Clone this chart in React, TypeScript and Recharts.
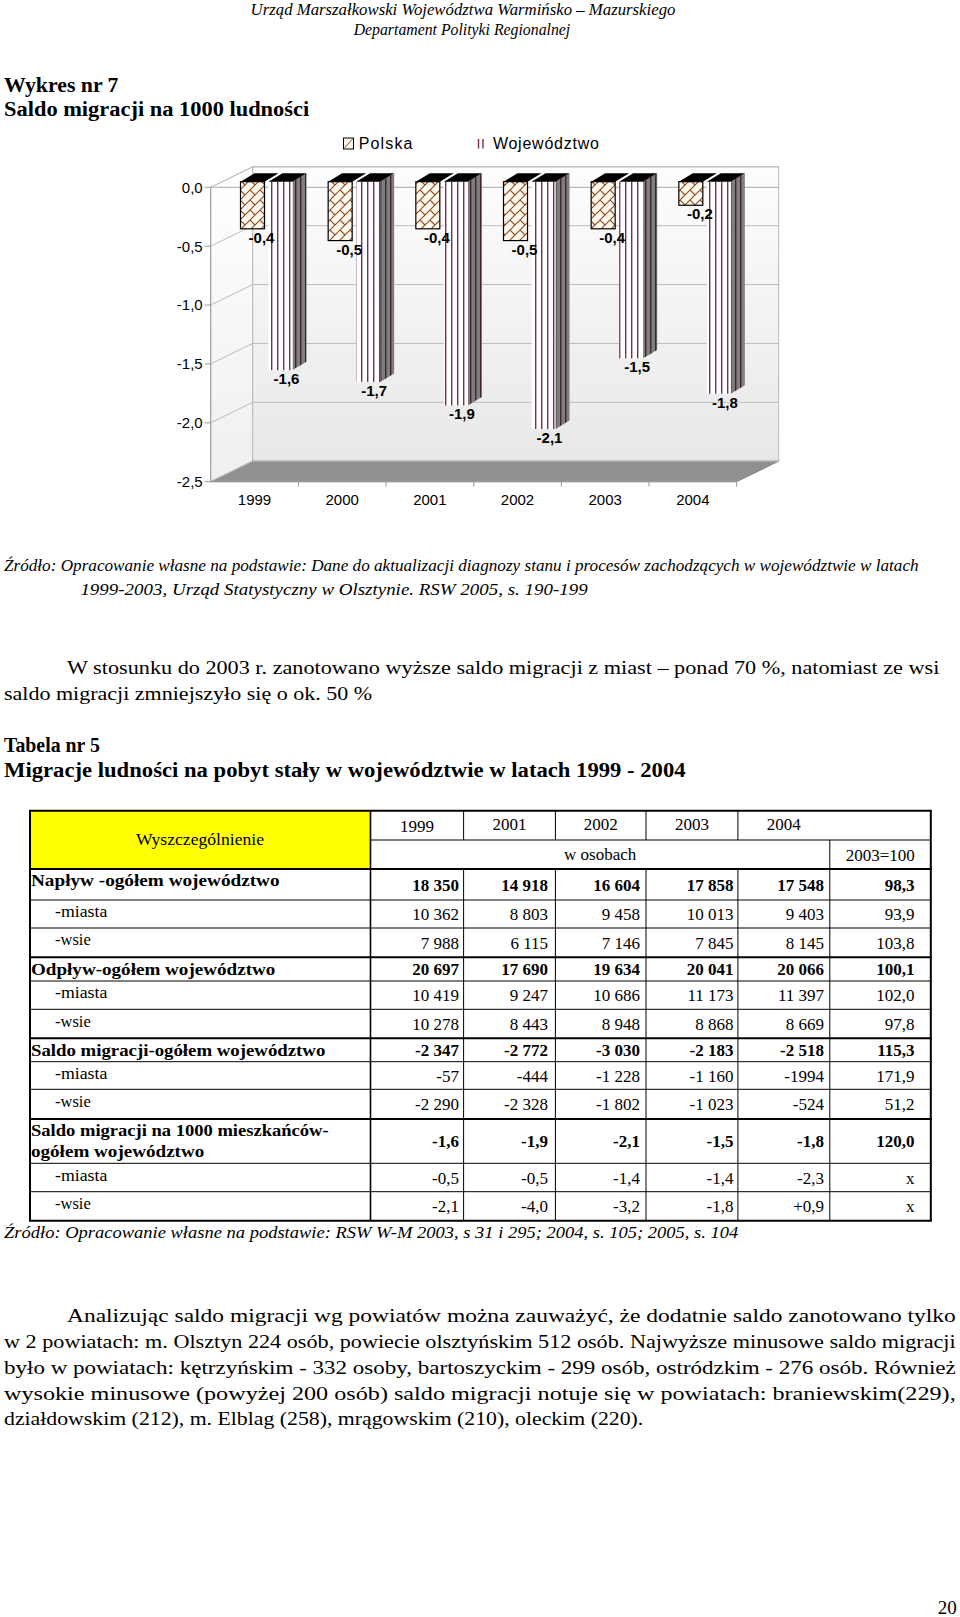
import React from "react";
import {
  BarChart,
  Bar,
  XAxis,
  YAxis,
  CartesianGrid,
  ReferenceArea,
  LabelList,
  Customized,
} from "recharts";

// ---- Wykres nr 7: saldo migracji na 1000 ludności ----
const years = ["1999", "2000", "2001", "2002", "2003", "2004"];
const polska = [-0.4, -0.5, -0.4, -0.5, -0.4, -0.2];
const wojewodztwo = [-1.6, -1.7, -1.9, -2.1, -1.5, -1.8];
const yTicks = [0, -0.5, -1, -1.5, -2, -2.5];

// ---- Tabela nr 5 ----
const tableYears = ["1999", "2001", "2002", "2003", "2004"];
const naplyw = ["18 350", "14 918", "16 604", "17 858", "17 548", "98,3"];
const naplywMiasta = ["10 362", "8 803", "9 458", "10 013", "9 403", "93,9"];
const naplywWsie = ["7 988", "6 115", "7 146", "7 845", "8 145", "103,8"];
const odplyw = ["20 697", "17 690", "19 634", "20 041", "20 066", "100,1"];
const odplywMiasta = ["10 419", "9 247", "10 686", "11 173", "11 397", "102,0"];
const odplywWsie = ["10 278", "8 443", "8 948", "8 868", "8 669", "97,8"];
const saldo = ["-2 347", "-2 772", "-3 030", "-2 183", "-2 518", "115,3"];
const saldoMiasta = ["-57", "-444", "-1 228", "-1 160", "-1994", "171,9"];
const saldoWsie = ["-2 290", "-2 328", "-1 802", "-1 023", "-524", "51,2"];
const saldo1000 = ["-1,6", "-1,9", "-2,1", "-1,5", "-1,8", "120,0"];
const saldo1000Miasta = ["-0,5", "-0,5", "-1,4", "-1,4", "-2,3", "x"];
const saldo1000Wsie = ["-2,1", "-4,0", "-3,2", "-1,8", "+0,9", "x"];

const chartData = years.map((year, i) => ({
  year,
  polska: polska[i],
  wojewodztwo: wojewodztwo[i],
}))

const tableRows = [
  { label: ["Napływ -ogółem województwo"], bold: true, values: naplyw },
  { label: ["-miasta"], bold: false, values: naplywMiasta },
  { label: ["-wsie"], bold: false, values: naplywWsie },
  { label: ["Odpływ-ogółem województwo"], bold: true, values: odplyw },
  { label: ["-miasta"], bold: false, values: odplywMiasta },
  { label: ["-wsie"], bold: false, values: odplywWsie },
  { label: ["Saldo migracji-ogółem województwo"], bold: true, values: saldo },
  { label: ["-miasta"], bold: false, values: saldoMiasta },
  { label: ["-wsie"], bold: false, values: saldoWsie },
  { label: ["Saldo migracji na 1000 mieszkańców-", "ogółem województwo"], bold: true, values: saldo1000 },
  { label: ["-miasta"], bold: false, values: saldo1000Miasta },
  { label: ["-wsie"], bold: false, values: saldo1000Wsie },
]

const SERIF = "'Liberation Serif', 'Times New Roman', serif"
const SANS = "'Liberation Sans', Arial, sans-serif"

// 3D look: back wall offset, bar plane offset, bar depth
const DX = 42
const DY = -20.5
const BX = 11.8
const BY = -5.6
const TX = 14
const TY = -8.4

const fmt = (v: number) => Number(v).toFixed(1).replace(".", ",")

const Walls = (props: any) => {
  const { x, y, width, height } = props
  const b = y + height
  return (
    <g>
      <polygon
        points={`${x},${y} ${x + DX},${y + DY} ${x + DX},${b + DY} ${x},${b}`}
        fill="url(#sideWall)"
        stroke="#c4c4c4"
      />
      <rect x={x + DX} y={y + DY} width={width} height={height} fill="url(#backWall)" stroke="#b8b8b8" />
      <polygon
        points={`${x},${b} ${x + width},${b} ${x + width + DX},${b + DY} ${x + DX},${b + DY}`}
        fill="#909090"
        stroke="#888"
      />
      <line x1={x} y1={y} x2={x + width + DX} y2={y} stroke="#a8a8a8" />
    </g>
  )
}

const gridLine = (p: any) => {
  const { x1, y1, x2 } = p
  return (
    <g key={`gl-${y1}`}>
      <line x1={x1} y1={y1} x2={x1 + DX} y2={y1 + DY} stroke="#bdbdbd" />
      <line x1={x1 + DX} y1={y1 + DY} x2={x2 + DX} y2={y1 + DY} stroke="#bdbdbd" />
    </g>
  )
}

const PolskaBar = (p: any) => {
  const { x, y, width, height } = p
  const top = Math.min(y, y + height) + BY
  const bottom = Math.max(y, y + height) + BY
  const l = x + BX
  const r = x + width + BX
  return (
    <g>
      <rect x={l} y={top} width={r - l} height={bottom - top} fill="url(#polPat)" stroke="#000" strokeWidth={1.2} />
      <polygon points={`${l},${top} ${r},${top} ${r + TX},${top + TY} ${l + TX},${top + TY}`} fill="#000" />
    </g>
  )
}

const WojBar = (p: any) => {
  const { x, y, width, height } = p
  const top = Math.min(y, y + height) + BY
  const bottom = Math.max(y, y + height) + BY
  const l = x + BX
  const r = x + width + BX
  return (
    <g>
      <polygon
        points={`${r},${top} ${r + TX},${top + TY} ${r + TX},${bottom + TY} ${r},${bottom}`}
        fill="url(#wojSide)"
      />
      <rect x={l} y={top} width={r - l} height={bottom - top} fill="url(#wojPat)" />
      <polygon points={`${l},${top} ${r},${top} ${r + TX},${top + TY} ${l + TX},${top + TY}`} fill="#000" />
    </g>
  )
}

const barLabel = (shift: number) => (p: any) => {
  const vb = p.viewBox || p
  const { x, y, width, height } = vb
  const bottom = Math.max(y, y + height) + BY
  return (
    <text
      x={x + width / 2 + BX + shift}
      y={bottom + 14}
      textAnchor="middle"
      style={{ fontFamily: SANS }}
      fontWeight="bold"
      fontSize={15}
      fill="#000"
    >
      {fmt(p.value)}
    </text>
  )
}

const XTick = (p: any) => {
  const { x, y, payload } = p
  const half = payload && payload.offset ? payload.offset : (p.width || 526) / years.length / 2
  return (
    <g>
      <line x1={x + half} y1={y} x2={x + half} y2={y + 5} stroke="#999" />
      <text x={x} y={y + 23.5} textAnchor="middle" style={{ fontFamily: SANS }} fontSize={15} fill="#000">
        {payload.value}
      </text>
    </g>
  )
}

const ChartDecor = () => (
  <g>
    <defs>
      <linearGradient id="backWall" x1="0" y1="0" x2="0" y2="1">
        <stop offset="0" stopColor="#fdfdfd" />
        <stop offset="1" stopColor="#e8e8e8" />
      </linearGradient>
      <linearGradient id="sideWall" x1="0" y1="0" x2="0" y2="1">
        <stop offset="0" stopColor="#ffffff" />
        <stop offset="1" stopColor="#efefef" />
      </linearGradient>
      <pattern id="polPat" patternUnits="userSpaceOnUse" width="10" height="10">
        <rect width="10" height="10" fill="#fff9f0" />
        <path d="M0,10 L10,0 M-1,1 L1,-1 M9,11 L11,9 M0,0 L5,5" stroke="#8c4a1c" strokeWidth={1.1} />
      </pattern>
      <pattern id="wojPat" patternUnits="userSpaceOnUse" width="6" height="6">
        <rect width="6" height="6" fill="#ffffff" />
        <rect x="1" width="1.4" height="6" fill="#7b2d57" />
      </pattern>
      <pattern id="wojSide" patternUnits="userSpaceOnUse" width="5" height="5">
        <rect width="5" height="5" fill="#7e7e7e" />
        <rect x="0" width="1.4" height="5" fill="#3f2433" />
      </pattern>
    </defs>
    <rect x={193.5} y={18} width={10} height={11} fill="#fff9f0" stroke="#000" />
    <line x1={194.5} y1={28} x2={202.5} y2={19} stroke="#8c4a1c" />
    <text x={208.8} y={29} style={{ fontFamily: SANS }} fontSize={16} textLength={53.6} lengthAdjust="spacing">
      Polska
    </text>
    <line x1={328.5} y1={19} x2={328.5} y2={28.5} stroke="#7b2d57" strokeWidth={1.4} />
    <line x1={333} y1={19} x2={333} y2={28.5} stroke="#7b2d57" strokeWidth={1.4} />
    <text x={342.9} y={29} style={{ fontFamily: SANS }} fontSize={16} textLength={106} lengthAdjust="spacing">
      Województwo
    </text>
  </g>
)

function MigrationChart() {
  return (
    <BarChart
      width={660}
      height={410}
      data={chartData}
      margin={{ top: 67.3, right: 73.3, left: 10.7, bottom: 18.3 }}
      barGap={4}
    >
      <Customized component={<ChartDecor />} />
      <ReferenceArea y1={-2.5} y2={0} shape={Walls} zIndex={-200} />
      <CartesianGrid vertical={false} horizontal={gridLine} />
      <XAxis
        dataKey="year"
        height={30}
        interval={0}
        tickSize={0}
        tickMargin={0}
        tickLine={false}
        axisLine={{ stroke: "#999" }}
        tick={<XTick />}
      />
      <YAxis
        type="number"
        domain={[-2.5, 0]}
        ticks={yTicks}
        width={50}
        tickSize={6}
        tickFormatter={fmt}
        axisLine={{ stroke: "#999" }}
        tickLine={{ stroke: "#999" }}
        tick={{ fontSize: 15, fill: "#000", fontFamily: SANS }}
      />
      <Bar dataKey="polska" barSize={24} shape={PolskaBar} isAnimationActive={false}>
        <LabelList dataKey="polska" content={barLabel(9)} />
      </Bar>
      <Bar dataKey="wojewodztwo" barSize={24} shape={WojBar} isAnimationActive={false}>
        <LabelList dataKey="wojewodztwo" content={barLabel(6)} />
      </Bar>
    </BarChart>
  )
}

const T = ({ x, y, w, size, italic, bold, anchor, children }: any) => (
  <text
    x={x}
    y={y}
    fontSize={size}
    fontStyle={italic ? "italic" : undefined}
    fontWeight={bold ? "bold" : undefined}
    textAnchor={anchor}
    textLength={w}
    lengthAdjust={w ? "spacingAndGlyphs" : undefined}
  >
    {children}
  </text>
)

// table layout
const COLS = [30, 370.5, 463.6, 555.4, 646, 737.9, 829.8, 930.8]
const VAL_RIGHT = [459, 548, 640, 733.5, 824, 914.5]
const T_TOP = 810.7
const T_MID = 840
const ROW_Y = [869, 900, 928, 957.3, 981, 1009.3, 1038.3, 1061.7, 1089.3, 1119, 1163.3, 1191.7, 1220.7]
const LABEL_W = [[248.6], [52.3], [35.7], [244.3], [52.3], [35.7], [294.3], [52.3], [35.7], [297.6, 173.3], [52.3], [35.7]]

function Table() {
  const bottom = ROW_Y[ROW_Y.length - 1]
  return (
    <g>
      <rect x={COLS[0]} y={T_TOP} width={COLS[1] - COLS[0]} height={ROW_Y[0] - T_TOP} fill="#ffff00" />
      {/* header text */}
      <T x={136} y={845} w={128} size={17}>Wyszczególnienie</T>
      {tableYears.map((yr, i) => (
        <T key={yr} x={(COLS[i + 1] + COLS[i + 2]) / 2} y={i === 0 ? 831.6 : 829.6} size={17} anchor="middle">
          {yr}
        </T>
      ))}
      <T x={(COLS[1] + COLS[6]) / 2} y={859.5} size={17} anchor="middle">w osobach</T>
      <T x={(COLS[6] + COLS[7]) / 2} y={860.5} size={17} anchor="middle">2003=100</T>
      {/* rows */}
      {tableRows.map((row, i) => {
        const top = ROW_Y[i]
        const mid = (ROW_Y[i] + ROW_Y[i + 1]) / 2
        return (
          <g key={i}>
            {row.label.map((ln, j) => (
              <T key={j} x={row.bold ? 31 : 55} y={top + 17.3 + j * 21} w={LABEL_W[i][j]} size={17} bold={row.bold}>
                {ln}
              </T>
            ))}
            {row.values.map((v, k) => (
              <T key={k} x={VAL_RIGHT[k]} y={mid + 6} size={17} bold={row.bold} anchor="end">
                {v}
              </T>
            ))}
          </g>
        )
      })}
      {/* grid lines */}
      <g stroke="#000" fill="none">
        <line x1={COLS[0] - 1} y1={T_TOP} x2={COLS[7] + 1} y2={T_TOP} strokeWidth={2} />
        <line x1={COLS[1]} y1={T_MID} x2={COLS[7]} y2={T_MID} strokeWidth={1} />
        {ROW_Y.map((yy, i) => {
          const thick = i === 0 || i === ROW_Y.length - 1 || (tableRows[i] && tableRows[i].bold)
          return (
            <line key={i} x1={COLS[0] - 1} y1={yy} x2={COLS[7] + 1} y2={yy} strokeWidth={thick ? 2 : 1} />
          )
        })}
        <line x1={COLS[0]} y1={T_TOP} x2={COLS[0]} y2={bottom} strokeWidth={2} />
        <line x1={COLS[7]} y1={T_TOP} x2={COLS[7]} y2={bottom} strokeWidth={2} />
        <line x1={COLS[1]} y1={T_TOP} x2={COLS[1]} y2={bottom} strokeWidth={1.6} />
        {COLS.slice(2, 6).map((cx) => (
          <g key={cx}>
            <line x1={cx} y1={T_TOP} x2={cx} y2={T_MID} strokeWidth={1} />
            <line x1={cx} y1={ROW_Y[0]} x2={cx} y2={bottom} strokeWidth={1} />
          </g>
        ))}
        <line x1={COLS[6]} y1={T_MID} x2={COLS[6]} y2={bottom} strokeWidth={1} />
      </g>
    </g>
  )
}

function PageText() {
  return (
    <svg width={960} height={1617} style={{ position: "absolute", left: 0, top: 0, fontFamily: SERIF }} fill="#000">
      <T x={250.6} y={14.5} w={424.8} size={17} italic>Urząd Marszałkowski Województwa Warmińsko – Mazurskiego</T>
      <T x={353.7} y={35} w={216.5} size={17} italic>Departament Polityki Regionalnej</T>

      <T x={4} y={91.6} w={114.5} size={20} bold>Wykres nr 7</T>
      <T x={4} y={116.3} w={305.2} size={20} bold>Saldo migracji na 1000 ludności</T>

      <T x={4} y={571} w={914.6} size={17} italic>
        Źródło: Opracowanie własne na podstawie: Dane do aktualizacji diagnozy stanu i procesów zachodzących w województwie w latach
      </T>
      <T x={80.4} y={595} w={507.3} size={17} italic>1999-2003, Urząd Statystyczny w Olsztynie. RSW 2005, s. 190-199</T>

      <T x={67} y={674} w={872.3} size={18}>
        W stosunku do 2003 r. zanotowano wyższe saldo migracji z miast – ponad 70 %, natomiast ze wsi
      </T>
      <T x={4} y={699.7} w={368.1} size={18}>saldo migracji zmniejszyło się o ok. 50 %</T>

      <T x={4} y={751.5} w={95.9} size={20} bold>Tabela nr 5</T>
      <T x={4} y={777.3} w={681.6} size={20} bold>Migracje ludności na pobyt stały w województwie w latach 1999 - 2004</T>

      <Table />

      <T x={4} y={1238.3} w={734.2} size={17} italic>
        Źródło: Opracowanie własne na podstawie: RSW W-M 2003, s 31 i 295; 2004, s. 105; 2005, s. 104
      </T>

      <T x={67} y={1322.4} w={888.8} size={18}>
        Analizując saldo migracji wg powiatów można zauważyć, że dodatnie saldo zanotowano tylko
      </T>
      <T x={4} y={1348.2} w={951.7} size={18}>
        w 2 powiatach: m. Olsztyn 224 osób, powiecie olsztyńskim 512 osób. Najwyższe minusowe saldo migracji
      </T>
      <T x={4} y={1373.9} w={951.7} size={18}>
        było w powiatach: kętrzyńskim - 332 osoby, bartoszyckim - 299 osób, ostródzkim - 276 osób. Również
      </T>
      <T x={4} y={1399.7} w={951.7} size={18}>
        wysokie minusowe (powyżej 200 osób) saldo migracji notuje się w powiatach: braniewskim(229),
      </T>
      <T x={4} y={1424.5} w={639.3} size={18}>
        działdowskim (212), m. Elblag (258), mrągowskim (210), oleckim (220).
      </T>

      <T x={956.7} y={1614} size={19} anchor="end">20</T>
    </svg>
  )
}

export default function App() {
  return (
    <div style={{ position: "absolute", left: 0, top: 0, width: 960, height: 1617, background: "#fff" }}>
      <PageText />
      <div style={{ position: "absolute", left: 150, top: 120, width: 660, height: 410 }}>
        <MigrationChart />
      </div>
    </div>
  )
}
